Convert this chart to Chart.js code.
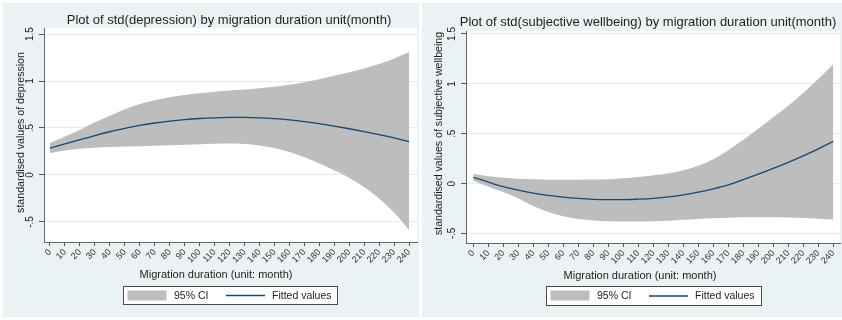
<!DOCTYPE html>
<html><head><meta charset="utf-8">
<script src="https://cdn.jsdelivr.net/npm/chart.js@4.4.1/dist/chart.umd.min.js"></script>
<style>
html,body{margin:0;padding:0;background:#fff;width:842px;height:320px;overflow:hidden;}
.panel{position:absolute;background:#eaf2f3;}
#p1{left:3px;top:3px;width:416px;height:314px;}
#p2{left:422px;top:3px;width:420px;height:314px;}
canvas{display:block;}
</style></head><body>
<div class="panel" id="p1"><canvas id="c1" width="416" height="314"></canvas></div>
<div class="panel" id="p2"><canvas id="c2" width="420" height="314"></canvas></div>
<script>
// ---- data ----
const months = [0,10,20,30,40,50,60,70,80,90,100,110,120,130,140,150,160,170,180,190,200,210,220,230,240];
const xTickLabels = ['0','10','20','30','40','50','60','70','80','90','100','110','120','130','140','150','160','170','180','190','200','210','220','230','240'];
const yTickValues = [-0.5, 0, 0.5, 1, 1.5];
const yTickLabels = ['-.5','0','.5','1','1.5'];
const legendLabels = ['95% CI','Fitted values'];

const depFitted = [0.285,0.33,0.375,0.42,0.46,0.495,0.527,0.553,0.574,0.59,0.601,0.608,0.612,0.612,0.608,0.599,0.586,0.568,0.546,0.52,0.492,0.462,0.43,0.395,0.355];
const depUpper  = [0.34,0.41,0.48,0.56,0.63,0.70,0.755,0.795,0.827,0.852,0.87,0.885,0.898,0.91,0.924,0.94,0.96,0.988,1.02,1.055,1.092,1.133,1.18,1.24,1.31];
const depLower  = [0.235,0.26,0.278,0.29,0.297,0.302,0.307,0.312,0.317,0.322,0.327,0.332,0.335,0.33,0.315,0.287,0.245,0.19,0.123,0.05,-0.03,-0.13,-0.25,-0.40,-0.585];

const swbFitted = [0.063,0.015,-0.03,-0.065,-0.095,-0.118,-0.135,-0.148,-0.157,-0.16,-0.16,-0.155,-0.147,-0.133,-0.112,-0.085,-0.052,-0.012,0.04,0.095,0.152,0.213,0.278,0.348,0.423];
const swbUpper  = [0.10,0.075,0.06,0.05,0.045,0.04,0.04,0.04,0.041,0.045,0.053,0.066,0.083,0.105,0.135,0.18,0.245,0.335,0.44,0.55,0.665,0.78,0.91,1.05,1.197];
const swbLower  = [0.03,-0.03,-0.085,-0.15,-0.225,-0.285,-0.328,-0.355,-0.37,-0.378,-0.38,-0.38,-0.378,-0.372,-0.363,-0.355,-0.348,-0.342,-0.338,-0.337,-0.338,-0.34,-0.345,-0.352,-0.36];

const FONT = "'Liberation Sans', Arial, sans-serif";
const TXT = '#1e1e1e';
const CI_COLOR = '#bdbdbd';
const FIT_COLOR = '#1a476f';

const decor = {
  id: 'decor',
  beforeDraw(chart) {
    const a = chart.chartArea, ctx = chart.ctx;
    ctx.save();
    ctx.fillStyle = '#ffffff';
    ctx.fillRect(a.left, a.top, a.right - a.left, a.bottom - a.top);
    ctx.restore();
  },
  afterDraw(chart) {
    const o = chart.options.plugins.decor;
    const ctx = chart.ctx;
    const ys = chart.scales.y;
    ctx.save();
    ctx.fillStyle = TXT;
    ctx.textAlign = 'center';
    ctx.textBaseline = 'middle';
    // y tick labels, rotated
    ctx.font = '10px ' + FONT;
    ys.ticks.forEach((t, i) => {
      const py = ys.getPixelForValue(t.value);
      ctx.save();
      ctx.translate(ys.right - o.yLabelGap, py);
      ctx.rotate(-Math.PI / 2);
      ctx.fillText(yTickLabels[i], 0, 0);
      ctx.restore();
    });
    // y title
    ctx.save();
    ctx.font = '10.6px ' + FONT;
    ctx.translate(o.yTitleX, o.yTitleY);
    ctx.rotate(-Math.PI / 2);
    ctx.fillText(o.yTitle, 0, 0);
    ctx.restore();
    // chart title
    ctx.font = '13px ' + FONT;
    ctx.fillText(o.title, o.titleX, o.titleY);
    // x title
    ctx.font = '11px ' + FONT;
    ctx.fillText(o.xTitle, o.xTitleX, o.xTitleY);
    // legend
    const L = o.legend;
    ctx.fillStyle = '#ffffff';
    ctx.fillRect(L.x, L.y, L.w, L.h);
    ctx.strokeStyle = '#4a4a4a';
    ctx.lineWidth = 1;
    ctx.strokeRect(L.x + 0.5, L.y + 0.5, L.w - 1, L.h - 1);
    ctx.fillStyle = CI_COLOR;
    ctx.fillRect(L.x + 4.5, L.y + 4.5, 39, 10);
    ctx.strokeStyle = FIT_COLOR;
    ctx.lineWidth = 1.3;
    ctx.beginPath();
    ctx.moveTo(L.x + 103, L.y + L.h / 2);
    ctx.lineTo(L.x + 142, L.y + L.h / 2);
    ctx.stroke();
    ctx.fillStyle = TXT;
    ctx.font = '10.5px ' + FONT;
    ctx.textAlign = 'left';
    ctx.fillText(legendLabels[0], L.x + 51, L.y + L.h / 2 + 0.5);
    ctx.fillText(legendLabels[1], L.x + 149, L.y + L.h / 2 + 0.5);
    ctx.restore();
  }
};

function makeChart(id, cfg) {
  const pts = arr => months.map((m, i) => ({x: m, y: arr[i]}));
  return new Chart(document.getElementById(id), {
    type: 'line',
    data: {
      datasets: [
        {label: legendLabels[0], data: pts(cfg.upper), order: 2, borderWidth: 0, pointRadius: 0, fill: '+1', backgroundColor: CI_COLOR, borderColor: 'rgba(0,0,0,0)', cubicInterpolationMode: 'monotone'},
        {label: 'lower', data: pts(cfg.lower), order: 3, borderWidth: 0, pointRadius: 0, fill: false, borderColor: 'rgba(0,0,0,0)', cubicInterpolationMode: 'monotone'},
        {label: legendLabels[1], data: pts(cfg.fitted), order: 0, borderWidth: 1.3, pointRadius: 0, fill: false, borderColor: FIT_COLOR, cubicInterpolationMode: 'monotone'}
      ]
    },
    options: {
      responsive: false,
      animation: false,
      devicePixelRatio: 1,
      layout: {padding: cfg.pad},
      plugins: {
        legend: {display: false},
        tooltip: {enabled: false},
        title: {display: false},
        decor: cfg.decor
      },
      scales: {
        x: {
          type: 'linear', min: cfg.xMin, max: cfg.xMax,
          afterBuildTicks: s => { s.ticks = months.map(v => ({value: v})); },
          afterFit: s => { s.height = 40; s.paddingLeft = 0; s.paddingRight = 0; },
          ticks: {autoSkip: false, minRotation: 45, maxRotation: 45, padding: 1,
                  font: {size: 9, family: FONT}, color: '#333',
                  callback: (v, i) => xTickLabels[i]},
          grid: {drawOnChartArea: false, drawTicks: true, tickLength: 4, tickColor: '#555'},
          border: {display: true, color: '#666', width: 1}
        },
        y: {
          type: 'linear', min: cfg.yMin, max: cfg.yMax,
          afterBuildTicks: s => { s.ticks = yTickValues.map(v => ({value: v})); },
          afterFit: s => { s.width = cfg.yWidth; s.paddingTop = 0; s.paddingBottom = 0; },
          ticks: {display: false},
          grid: {color: '#e2ecef', drawTicks: true, tickLength: 5, tickColor: '#555'},
          border: {display: true, color: '#666', width: 1},
          title: {display: false}
        }
      }
    },
    plugins: [decor]
  });
}

makeChart('c1', {
  upper: depUpper, lower: depLower, fitted: depFitted,
  xMin: -4, xMax: 245.3, yMin: -0.713, yMax: 1.564,
  yWidth: 41, pad: {left: 0, right: 2, top: 25, bottom: 35},
  decor: {title: 'Plot of std(depression) by migration duration unit(month)', titleX: 226, titleY: 17,
          yTitle: 'standardised values of depression', yTitleX: 18, yTitleY: 129.5,
          xTitle: 'Migration duration (unit: month)', xTitleX: 213, xTitleY: 272,
          yLabelGap: 13.5, legend: {x: 120, y: 283, w: 215, h: 19}}
});

makeChart('c2', {
  upper: swbUpper, lower: swbLower, fitted: swbFitted,
  xMin: -4.9, xMax: 244.5, yMin: -0.595, yMax: 1.53,
  yWidth: 44, pad: {left: 0, right: 2, top: 28, bottom: 34},
  decor: {title: 'Plot of std(subjective wellbeing) by migration duration unit(month)', titleX: 226, titleY: 19,
          yTitle: 'standardised values of subjective wellbeing', yTitleX: 17, yTitleY: 130.5,
          xTitle: 'Migration duration (unit: month)', xTitleX: 218, xTitleY: 273,
          yLabelGap: 13.5, legend: {x: 124, y: 283, w: 216, h: 20}}
});
</script>
</body></html>
